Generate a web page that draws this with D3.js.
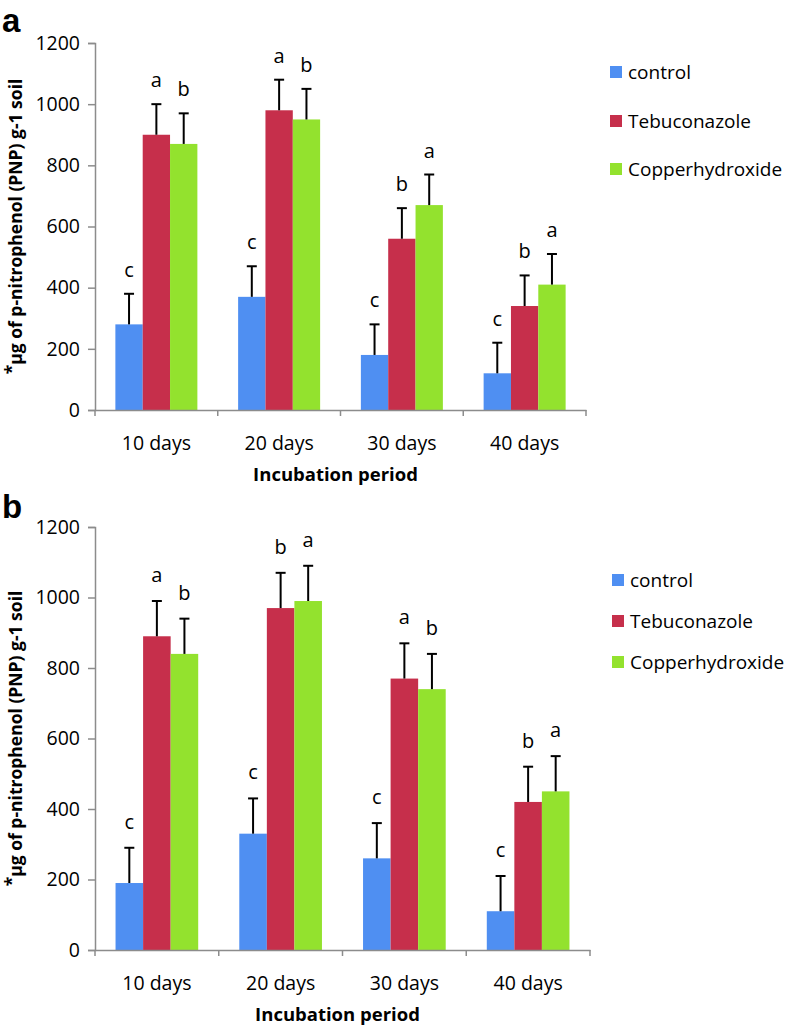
<!DOCTYPE html>
<html>
<head>
<meta charset="utf-8">
<script src="https://cdn.jsdelivr.net/npm/d3@7"></script>
<style>
  html, body { margin: 0; padding: 0; background: #fff; }
  svg { display: block; }
  text { font-family: "Open Sans", sans-serif; fill: #000; }
</style>
</head>
<body>
<svg id="chart" width="786" height="1025"></svg>
<script>
// ---- data ----
const categories = ["10 days", "20 days", "30 days", "40 days"];
const seriesNames = ["control", "Tebuconazole", "Copperhydroxide"];
const seriesColors = ["#4f8ff2", "#c62f4b", "#93e22e"];
const yTicks = [0, 200, 400, 600, 800, 1000, 1200];

// panel a
const aControl = [280, 370, 180, 120];
const aTebuconazole = [900, 980, 560, 340];
const aCopper = [870, 950, 670, 410];
const aControlErr = [100, 100, 100, 100];
const aTebuconazoleErr = [100, 100, 100, 100];
const aCopperErr = [100, 100, 100, 100];
const aControlLetters = ["c", "c", "c", "c"];
const aTebuconazoleLetters = ["a", "a", "b", "b"];
const aCopperLetters = ["b", "b", "a", "a"];

// panel b
const bControl = [190, 330, 260, 110];
const bTebuconazole = [890, 970, 770, 420];
const bCopper = [840, 990, 740, 450];
const bControlErr = [100, 100, 100, 100];
const bTebuconazoleErr = [100, 100, 100, 100];
const bCopperErr = [100, 100, 100, 100];
const bControlLetters = ["c", "c", "c", "c"];
const bTebuconazoleLetters = ["a", "b", "a", "b"];
const bCopperLetters = ["b", "a", "b", "a"];

const xTitle = "Incubation period";

const panels = [
  {
    label: "a",
    values: [aControl, aTebuconazole, aCopper],
    errs: [aControlErr, aTebuconazoleErr, aCopperErr],
    letters: [aControlLetters, aTebuconazoleLetters, aCopperLetters],
    layout: { x0: 95, x1: 586, yTop: 43, y0: 410, labelY: 32, legendX: 610, legendY: [72, 121, 169], letterOff: 17 }
  },
  {
    label: "b",
    values: [bControl, bTebuconazole, bCopper],
    errs: [bControlErr, bTebuconazoleErr, bCopperErr],
    letters: [bControlLetters, bTebuconazoleLetters, bCopperLetters],
    layout: { x0: 95, x1: 590, yTop: 527, y0: 950, labelY: 518, legendX: 612, legendY: [580, 621, 662], letterOff: 19 }
  }
];

const svg = d3.select("#chart");
const axisColor = "#8c8c8c";

panels.forEach(p => {
  const L = p.layout;
  const g = svg.append("g");

  const x = d3.scaleBand().domain(categories).range([L.x0, L.x1]).paddingInner(0).paddingOuter(0);
  const bw = x.bandwidth();
  const gap = bw * 0.166;
  const xs = d3.scaleBand().domain(seriesNames).range([gap, bw - gap]).padding(0);
  const y = d3.scaleLinear().domain([0, 1200]).range([L.y0, L.yTop]);

  // bars
  seriesNames.forEach((s, si) => {
    g.append("g").selectAll("rect")
      .data(categories.map((c, ci) => ({ c, v: p.values[si][ci] })))
      .join("rect")
      .attr("x", d => x(d.c) + xs(s))
      .attr("y", d => y(d.v))
      .attr("width", xs.bandwidth())
      .attr("height", d => y(0) - y(d.v))
      .attr("fill", seriesColors[si]);
  });

  // error bars + letters
  seriesNames.forEach((s, si) => {
    const d = categories.map((c, ci) => ({
      c, v: p.values[si][ci], e: p.errs[si][ci], l: p.letters[si][ci]
    }));
    const cx = dd => x(dd.c) + xs(s) + xs.bandwidth() / 2;
    const eg = g.append("g").attr("stroke", "#000").attr("stroke-width", 2);
    eg.selectAll("line.v").data(d).join("line").attr("class", "v")
      .attr("x1", cx).attr("x2", cx)
      .attr("y1", dd => y(dd.v)).attr("y2", dd => y(dd.v + dd.e));
    eg.selectAll("line.h").data(d).join("line").attr("class", "h")
      .attr("x1", dd => cx(dd) - 5).attr("x2", dd => cx(dd) + 5)
      .attr("y1", dd => y(dd.v + dd.e)).attr("y2", dd => y(dd.v + dd.e));
    g.append("g").selectAll("text").data(d).join("text")
      .attr("x", cx)
      .attr("y", dd => y(dd.v + dd.e) - L.letterOff)
      .attr("text-anchor", "middle")
      .style("font-size", "20px")
      .text(dd => dd.l);
  });

  // y axis
  const yAxis = d3.axisLeft(y).tickValues(yTicks).tickSize(7).tickPadding(8).tickFormat(d3.format("d"));
  const ya = g.append("g").attr("transform", `translate(${L.x0},0)`).call(yAxis);
  ya.select(".domain").attr("stroke", axisColor).attr("stroke-width", 1.5);
  ya.selectAll(".tick line").attr("stroke", axisColor).attr("stroke-width", 1.5);
  ya.selectAll(".tick text").style("font-size", "19.5px").style("font-family", "'Open Sans', sans-serif").attr("fill", "#000");

  // x axis
  const xAxis = d3.axisBottom(x).tickSize(0).tickPadding(26);
  const xa = g.append("g").attr("transform", `translate(0,${L.y0})`).call(xAxis);
  xa.select(".domain").attr("stroke", axisColor).attr("stroke-width", 1.5);
  xa.selectAll(".tick text").style("font-size", "19.5px").style("font-family", "'Open Sans', sans-serif").attr("fill", "#000");
  // category boundary ticks
  const bounds = categories.map(c => x(c)).concat([L.x1]);
  xa.selectAll("line.bound").data(bounds).join("line").attr("class", "bound")
    .attr("x1", d => d).attr("x2", d => d).attr("y1", 0).attr("y2", 6)
    .attr("stroke", axisColor).attr("stroke-width", 1.5);

  // x title
  g.append("text")
    .attr("x", (L.x0 + L.x1) / 2 - 5)
    .attr("y", L.y0 + 71)
    .attr("text-anchor", "middle")
    .style("font-size", "18.5px").style("font-weight", "bold")
    .text(xTitle);

  // y title
  const yt = g.append("text")
    .attr("transform", `translate(22,${(L.yTop + L.y0) / 2}) rotate(-90)`)
    .attr("text-anchor", "middle")
    .style("font-size", "17.5px").style("font-weight", "bold");
  yt.append("tspan").attr("baseline-shift", "4").text("*");
  yt.append("tspan").text("µg of p-nitrophenol (PNP) g-1 soil");

  // panel label
  g.append("text")
    .attr("x", 2).attr("y", L.labelY)
    .style("font-family", "'Liberation Sans', Arial, sans-serif")
    .style("font-size", "33px").style("font-weight", "bold")
    .text(p.label);

  // legend
  const lg = g.append("g");
  seriesNames.forEach((s, si) => {
    lg.append("rect").attr("x", L.legendX).attr("y", L.legendY[si] - 6)
      .attr("width", 12).attr("height", 12).attr("fill", seriesColors[si]);
    lg.append("text").attr("x", L.legendX + 18).attr("y", L.legendY[si] + 7)
      .style("font-size", "19px").text(s);
  });
});
</script>
</body>
</html>
